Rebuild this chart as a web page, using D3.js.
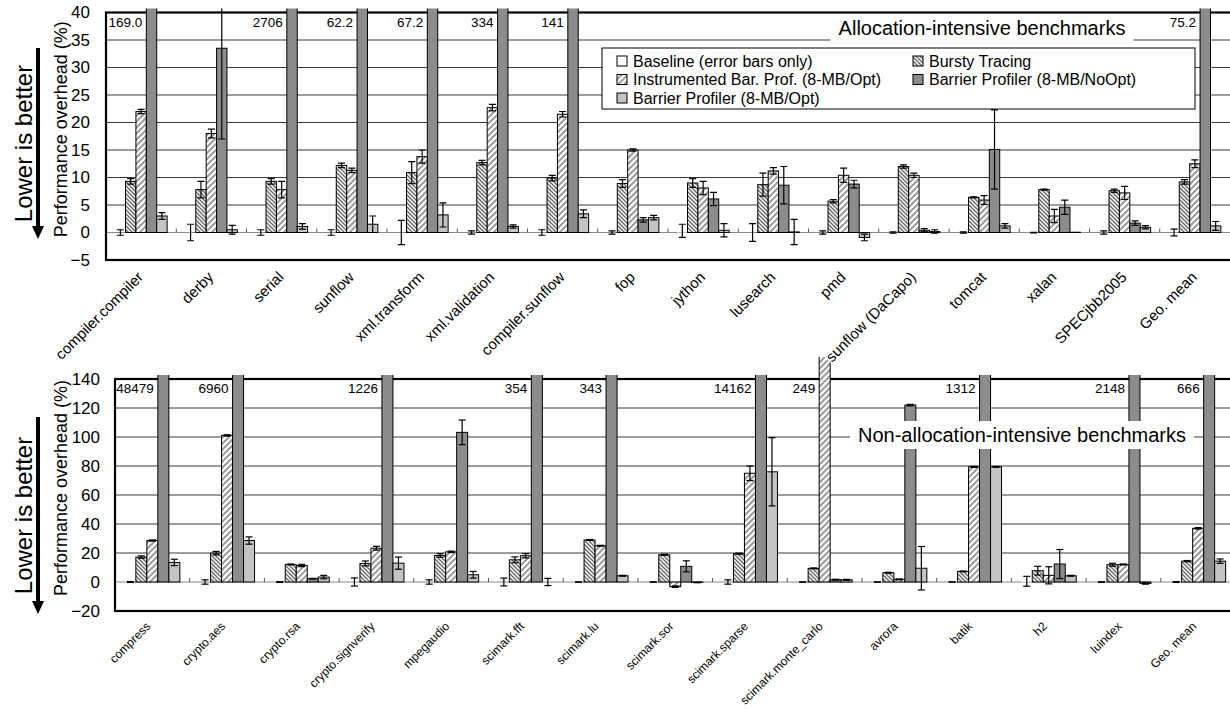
<!DOCTYPE html>
<html>
<head>
<meta charset="utf-8">
<script src="https://cdn.jsdelivr.net/npm/d3@7"></script>
<style>
body { margin: 0; background: #fff; }
text { font-family: "Liberation Sans", Arial, sans-serif; fill: #000; }
</style>
</head>
<body>
<svg id="chart" width="1230" height="709"></svg>
<script>
// Series shared by both panels
var seriesNames = ['Baseline (error bars only)', 'Bursty Tracing', 'Instrumented Bar. Prof. (8-MB/Opt)',
	'Barrier Profiler (8-MB/NoOpt)', 'Barrier Profiler (8-MB/Opt)'];
var seriesFill = ['#fff', 'url(#pBursty)', 'url(#pInstr)', '#8c8c8c', '#c4c4c4'];

// Allocation-intensive benchmarks
var topCats = ['compiler.compiler', 'derby', 'serial', 'sunflow', 'xml.transform', 'xml.validation',
	'compiler.sunflow', 'fop', 'jython', 'lusearch', 'pmd', 'sunflow (DaCapo)', 'tomcat', 'xalan',
	'SPECjbb2005', 'Geo. mean'];
var topBaseline = [0, 0, 0, 0, 0, 0, 0, 0, 0.3, 0, 0, 0, 0, 0, 0, 0];
var topBaselineErr = [0.5, 1.5, 0.5, 0.5, 2.2, 0.3, 0.5, 0.3, 1.2, 1.6, 0.3, 0.1, 0.1, 0.05, 0.3, 0.6];
var topBursty = [9.3, 7.8, 9.3, 12.2, 10.9, 12.7, 9.9, 8.9, 9.0, 8.7, 5.7, 12.0, 6.4, 7.8, 7.6, 9.2];
var topBurstyErr = [0.5, 1.5, 0.5, 0.4, 2.0, 0.4, 0.5, 0.7, 0.8, 2.1, 0.3, 0.3, 0.1, 0.1, 0.3, 0.4];
var topInstr = [22.0, 18.0, 7.8, 11.3, 13.8, 22.7, 21.5, 15.0, 8.1, 11.2, 10.4, 10.4, 5.9, 3.0, 7.2, 12.5];
var topInstrErr = [0.4, 0.8, 1.5, 0.4, 1.2, 0.6, 0.5, 0.2, 1.2, 0.6, 1.3, 0.4, 0.8, 1.2, 1.2, 0.7];
var topNoOpt = [169.0, 33.5, 2706, 62.2, 67.2, 334, 141, 2.3, 6.1, 8.6, 8.8, 0.4, 15.1, 4.6, 1.7, 75.2];
var topNoOptErr = [0, 16.5, 0, 0, 0, 0, 0, 0.4, 1.2, 3.4, 0.7, 0.3, 7.2, 1.3, 0.4, 0];
var topOpt = [3.0, 0.5, 1.1, 1.5, 3.2, 1.1, 3.4, 2.7, 0.4, 0.1, -0.9, 0.2, 1.2, 0.05, 0.95, 1.2];
var topOptErr = [0.6, 0.8, 0.5, 1.5, 2.2, 0.3, 0.7, 0.4, 1.2, 2.3, 0.6, 0.3, 0.4, 0, 0.3, 0.8];
var topOverLabels = ['169.0', '2706', '62.2', '67.2', '334', '141', '75.2'];
var topTicks = [-5, 0, 5, 10, 15, 20, 25, 30, 35, 40];

// Non-allocation-intensive benchmarks
var botCats = ['compress', 'crypto.aes', 'crypto.rsa', 'crypto.signverify', 'mpegaudio', 'scimark.fft',
	'scimark.lu', 'scimark.sor', 'scimark.sparse', 'scimark.monte_carlo', 'avrora', 'batik', 'h2',
	'luindex', 'Geo. mean'];
var botBaseline = [0, 0, 0, 0, 0, 0, 0, 0, 0, 0, 0, 0, 0.5, 0, 0];
var botBaselineErr = [0.3, 1.5, 0.3, 2.8, 1.5, 2.7, 0.1, 0.1, 1.5, 0.1, 0.1, 0.1, 3.4, 0.2, 0.3];
var botBursty = [17.2, 19.9, 12.1, 12.8, 18.3, 15.3, 29.0, 18.8, 19.5, 9.4, 6.4, 7.3, 7.8, 11.9, 14.4];
var botBurstyErr = [0.8, 1.2, 0.3, 1.7, 1.2, 2.0, 0.3, 0.4, 0.4, 0.3, 0.3, 0.3, 3.0, 1.0, 0.4];
var botInstr = [28.6, 101.1, 11.4, 23.3, 20.8, 18.1, 25.0, -3.2, 75.0, 249, 1.8, 79.4, 4.6, 12.1, 37.0];
var botInstrErr = [0.4, 0.5, 0.8, 1.3, 0.5, 1.5, 0.3, 0.5, 5.0, 0, 0.3, 0.3, 5.9, 0.3, 0.5];
var botNoOpt = [48479, 6960, 2.3, 1226, 103.2, 354, 343, 10.8, 14162, 1.6, 122, 1312, 12.4, 2148, 666];
var botNoOptErr = [0, 0, 0.2, 0, 8.5, 0, 0, 3.8, 0, 0.3, 0.5, 0, 10, 0, 0];
var botOpt = [13.5, 28.6, 3.4, 13.0, 5.0, 0, 4.3, -0.3, 76, 1.5, 9.5, 79.4, 4.3, -1.0, 14.4];
var botOptErr = [2.2, 2.5, 1.2, 4.2, 2.3, 2.5, 0.3, 0.2, 23.5, 0.3, 15, 0.3, 0.3, 0.5, 1.5];
var botOverLabels = ['48479', '6960', '1226', '354', '343', '14162', '249', '1312', '2148', '666'];
var botTicks = [-20, 0, 20, 40, 60, 80, 100, 120, 140];

var svg = d3.select('#chart');
var defs = svg.append('defs');

// hatch patterns
var pb = defs.append('pattern').attr('id', 'pBursty').attr('patternUnits', 'userSpaceOnUse')
		.attr('width', 4).attr('height', 4);
pb.append('rect').attr('width', 4).attr('height', 4).attr('fill', '#fff');
pb.append('path').attr('d', 'M-1,-1L5,5M3,-1L5,1M-1,3L1,5')
		.attr('stroke', '#6a6a6a').attr('stroke-width', 1.4);

var pi = defs.append('pattern').attr('id', 'pInstr').attr('patternUnits', 'userSpaceOnUse')
		.attr('width', 6).attr('height', 6);
pi.append('rect').attr('width', 6).attr('height', 6).attr('fill', '#fff');
pi.append('path').attr('d', 'M-1,7L7,-1M-1,1L1,-1M5,7L7,5')
		.attr('stroke', '#9c9c9c').attr('stroke-width', 2);

/**
 * Draws one panel (frame, grid, bars, error bars, labels).
 */
function drawChart(cfg) {
	var g = svg.append('g');
	var n = cfg.cats.length;
	var x = d3.scaleBand().domain(cfg.cats).range([cfg.left, cfg.left + n * cfg.step]);
	var pad = (cfg.step - 5 * cfg.barW) / 2;
	var xs = d3.scaleBand().domain(d3.range(5)).range([pad, pad + 5 * cfg.barW]);
	var y = d3.scaleLinear().domain([cfg.yTicks[0], cfg.yTicks[cfg.yTicks.length - 1]])
			.range([cfg.bottom, cfg.top]);
	var yMax = y.domain()[1];
	var right = cfg.left + n * cfg.step + 3;

	// grid
	g.append('g').selectAll('line')
			.data(cfg.yTicks.filter(function(t) { return t !== 0 && t > y.domain()[0] && t < yMax; }))
			.join('line')
			.attr('x1', cfg.left).attr('x2', right)
			.attr('y1', function(d) { return y(d); }).attr('y2', function(d) { return y(d); })
			.attr('stroke', '#3a3a3a').attr('stroke-width', 1);

	// zero line with group ticks
	g.append('line').attr('x1', cfg.left).attr('x2', right).attr('y1', y(0)).attr('y2', y(0))
			.attr('stroke', '#8a8a8a').attr('stroke-width', 1.2);
	g.append('g').selectAll('line').data(d3.range(1, n)).join('line')
			.attr('x1', function(i) { return cfg.left + i * cfg.step; })
			.attr('x2', function(i) { return cfg.left + i * cfg.step; })
			.attr('y1', y(0) - 4).attr('y2', y(0))
			.attr('stroke', '#555').attr('stroke-width', 1);

	// frame
	g.append('rect').attr('x', cfg.left).attr('y', cfg.top).attr('width', right + 3 - cfg.left)
			.attr('height', cfg.bottom - cfg.top).attr('fill', 'none')
			.attr('stroke', '#000').attr('stroke-width', 2.2);

	// clipping for off-scale bars
	var clipId = 'clip' + cfg.id;
	defs.append('clipPath').attr('id', clipId).append('rect')
			.attr('x', 0).attr('y', cfg.top - 4).attr('width', 1300).attr('height', 800);
	defs.append('clipPath').attr('id', clipId + 'b').append('rect')
			.attr('x', 0).attr('y', cfg.top - cfg.instrOver).attr('width', 1300).attr('height', 800);

	var cells = [];
	cfg.cats.forEach(function(c, i) {
		cfg.values.forEach(function(vals, s) {
			cells.push({cat: c, s: s, v: vals[i], e: cfg.errs[s][i]});
		});
	});

	var bars = g.append('g');
	bars.selectAll('rect').data(cells).join('rect')
			.attr('clip-path', function(d) { return d.s === 2 ? 'url(#' + clipId + 'b)' : 'url(#' + clipId + ')'; })
			.attr('x', function(d) { return x(d.cat) + xs(d.s); })
			.attr('width', xs.bandwidth())
			.attr('y', function(d) { return d.v > yMax ? y(yMax) - 60 : y(Math.max(0, d.v)); })
			.attr('height', function(d) {
				var top = d.v > yMax ? y(yMax) - 60 : y(Math.max(0, d.v));
				return Math.max(0, y(Math.min(0, d.v)) - top);
			})
			.attr('fill', function(d) { return seriesFill[d.s]; })
			.attr('stroke', function(d) { return d.s === 0 ? 'none' : '#000'; })
			.attr('stroke-width', 1);

	// error bars
	var errCells = cells.filter(function(d) { return d.e > 0 && d.v <= yMax; });
	var eg = g.append('g').attr('clip-path', 'url(#' + clipId + ')')
			.selectAll('g').data(errCells).join('g')
			.attr('transform', function(d) { return 'translate(' + (x(d.cat) + xs(d.s) + xs.bandwidth() / 2) + ',0)'; });
	eg.append('line').attr('y1', function(d) { return y(d.v - d.e); }).attr('y2', function(d) { return y(d.v + d.e); });
	eg.append('line').attr('x1', -3.5).attr('x2', 3.5)
			.attr('y1', function(d) { return y(d.v - d.e); }).attr('y2', function(d) { return y(d.v - d.e); });
	eg.append('line').attr('x1', -3.5).attr('x2', 3.5)
			.attr('y1', function(d) { return y(d.v + d.e); }).attr('y2', function(d) { return y(d.v + d.e); });
	eg.selectAll('line').attr('stroke', '#000').attr('stroke-width', 1.2);

	// labels for off-scale bars
	var over = cells.filter(function(d) { return d.v > yMax; });
	g.append('g').selectAll('text').data(over).join('text')
			.attr('x', function(d) { return x(d.cat) + xs(d.s) - 4; })
			.attr('y', cfg.top + 14)
			.attr('text-anchor', 'end')
			.style('font-size', cfg.overFont + 'px')
			.text(function(d, i) { return cfg.overLabels[i]; });

	// y axis
	var ax = g.append('g').attr('transform', 'translate(' + cfg.left + ',0)')
			.call(d3.axisLeft(y).tickValues(cfg.yTicks).tickSize(0).tickPadding(cfg.tickPad));
	ax.select('.domain').remove();
	ax.selectAll('text').style('font-size', '17px').attr('font-family', null);

	var plotMid = (cfg.top + cfg.bottom) / 2;
	g.append('text').attr('transform', 'translate(67,' + (plotMid - 7) + ') rotate(-90)')
			.attr('text-anchor', 'middle').style('font-size', '18px')
			.text('Performance overhead (%)');
	g.append('line').attr('x1', 38).attr('x2', 38).attr('y1', cfg.arrow[0]).attr('y2', cfg.arrow[1] - 10)
			.attr('stroke', '#000').attr('stroke-width', 4);
	g.append('path').attr('d', 'M32,' + (cfg.arrow[1] - 13) + 'L44,' + (cfg.arrow[1] - 13) + 'L38,' + cfg.arrow[1] + 'Z')
			.attr('fill', '#000');
	g.append('text').attr('transform', 'translate(32,' + ((cfg.arrow[0] + cfg.arrow[1]) / 2) + ') rotate(-90)')
			.attr('text-anchor', 'middle').style('font-size', '24px')
			.text('Lower is better');

	// panel title
	var tb = g.append('g');
	var tt = tb.append('text').attr('x', cfg.title.x).attr('y', cfg.title.y)
			.attr('text-anchor', 'middle').style('font-size', '20px').text(cfg.title.text);
	var bb = tt.node().getBBox();
	tb.insert('rect', 'text').attr('x', bb.x - 8).attr('y', bb.y - 3)
			.attr('width', bb.width + 16).attr('height', bb.height + 6).attr('fill', '#fff');

	cfg.x = x;
	return g;
}

function drawLabels(cfg) {
	var lg = svg.append('g').selectAll('g').data(cfg.cats).join('g')
			.attr('transform', function(d) {
				return 'translate(' + (cfg.x(d) + cfg.step / 2 + cfg.labelDx) + ',' + (cfg.bottom + cfg.labelDy) + ') rotate(-45)';
			});
	lg.append('text').attr('text-anchor', 'end').style('font-size', cfg.labelFont + 'px')
			.text(function(d) { return d; });
	lg.each(function() {
		var b = d3.select(this).select('text').node().getBBox();
		d3.select(this).insert('rect', 'text').attr('x', b.x - 1).attr('y', b.y)
				.attr('width', b.width + 2).attr('height', b.height).attr('fill', '#fff');
	});
}

var botCfg = {
	id: 'bot', cats: botCats,
	values: [botBaseline, botBursty, botInstr, botNoOpt, botOpt],
	errs: [botBaselineErr, botBurstyErr, botInstrErr, botNoOptErr, botOptErr],
	overLabels: botOverLabels, overFont: 13.5, yTicks: botTicks,
	left: 115, step: 74.7, barW: 11, top: 379, bottom: 611, tickPad: 15, instrOver: 22,
	arrow: [417, 614], labelDx: -1, labelDy: 16, labelFont: 12,
	title: {text: 'Non-allocation-intensive benchmarks', x: 1022, y: 442}
};
var topCfg = {
	id: 'top', cats: topCats,
	values: [topBaseline, topBursty, topInstr, topNoOpt, topOpt],
	errs: [topBaselineErr, topBurstyErr, topInstrErr, topNoOptErr, topOptErr],
	overLabels: topOverLabels, overFont: 13.5, yTicks: topTicks,
	left: 106, step: 70.25, barW: 10.4, top: 12.5, bottom: 260, tickPad: 16, instrOver: 4,
	arrow: [48, 239], labelDx: 3, labelDy: 18, labelFont: 15,
	title: {text: 'Allocation-intensive benchmarks', x: 982, y: 35}
};

drawChart(botCfg);
drawLabels(botCfg);
drawChart(topCfg);

// legend (top panel)
var legend = svg.append('g').attr('transform', 'translate(602,48)');
legend.append('rect').attr('width', 593).attr('height', 61)
		.attr('fill', '#fff').attr('stroke', '#000').attr('stroke-width', 1);
var li = legend.selectAll('g.item').data(seriesNames).join('g').attr('class', 'item')
		.attr('transform', function(d, i) { return 'translate(' + (i % 2 === 0 ? 15 : 311) + ',' + (13 + Math.floor(i / 2) * 18.5) + ')'; });
li.append('rect').attr('x', 0).attr('y', -5).attr('width', 10).attr('height', 10)
		.attr('fill', function(d, i) { return seriesFill[i]; }).attr('stroke', '#000').attr('stroke-width', 1);
li.append('text').attr('x', 16).attr('y', 5.5).style('font-size', '16px').text(function(d) { return d; });

drawLabels(topCfg);
</script>
</body>
</html>
